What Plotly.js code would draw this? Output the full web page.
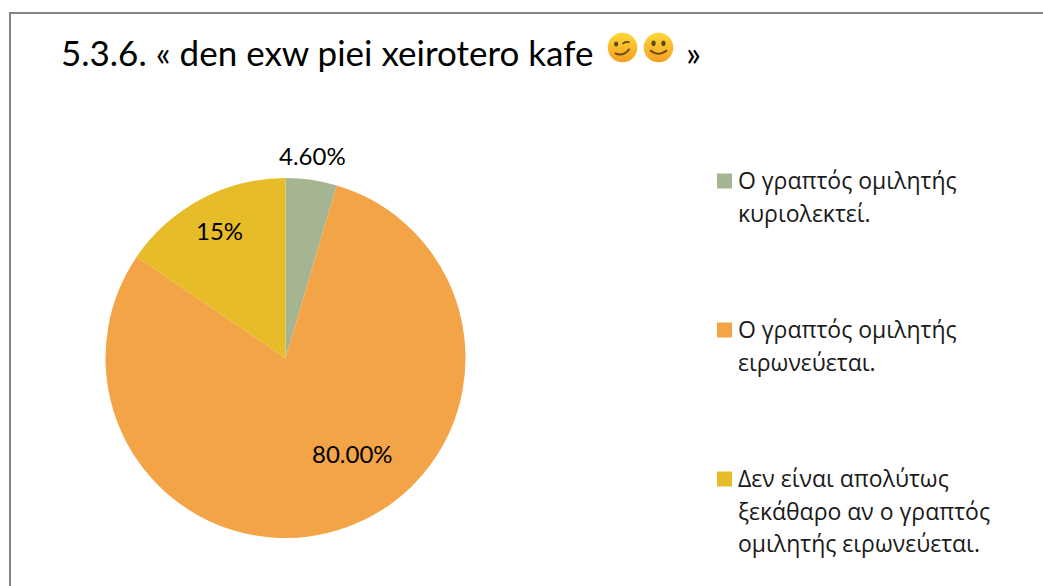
<!DOCTYPE html>
<html><head><meta charset="utf-8">
<script src="https://cdn.plot.ly/plotly-3.0.1.min.js"></script>
<style>html,body{margin:0;padding:0;background:#fff}#c{width:1043px;height:586px}</style>
</head><body><div id="c"></div>
<script>
const titleText = "5.3.6. « den exw piei xeirotero kafe";
const titleEnd = "»";
const categories = ["Ο γραπτός ομιλητής κυριολεκτεί.","Ο γραπτός ομιλητής ειρωνεύεται.","Δεν είναι απολύτως ξεκάθαρο αν ο γραπτός ομιλητής ειρωνεύεται."];
const legendLines = [["Ο γραπτός ομιλητής","κυριολεκτεί."],["Ο γραπτός ομιλητής","ειρωνεύεται."],["Δεν είναι απολύτως","ξεκάθαρο αν ο γραπτός","ομιλητής ειρωνεύεται."]];
const values = [4.6, 80, 15.5];
const valueLabels = ["4.60%","80.00%","15%"];
const colors = ["#A5B592","#F3A447","#E7BC29"];
const W=1043,H=586;
const px=x=>x/W, py=y=>1-y/H;
const labelPos=[[312,155],[352,453],[219,230]];
const legendY=[181,330,479];
const FONT='Lato, "Noto Sans", sans-serif';
const LFONT='"Open Sans", "Noto Sans", sans-serif';
const emoji=(wink)=>{
 const eyes = wink
  ? '<ellipse cx="13" cy="17" rx="3" ry="3.6" fill="#5b4a1e"/><path d="M22 17 q5 -5 10 -2" stroke="#5b4a1e" stroke-width="2.4" fill="none"/><path d="M11 30 q12 6 21 -6" stroke="#6b4a14" stroke-width="2.6" fill="none"/>'
  : '<ellipse cx="15" cy="16" rx="3" ry="4" fill="#5b4a1e"/><ellipse cx="29" cy="16" rx="3" ry="4" fill="#5b4a1e"/><path d="M10 26 q12 10 24 0" stroke="#6b4a14" stroke-width="2.6" fill="none"/>';
 const s='<svg xmlns="http://www.w3.org/2000/svg" width="44" height="44" viewBox="0 0 44 44"><defs><linearGradient id="g" x1="0" y1="0" x2="0" y2="1"><stop offset="0" stop-color="#FDD835"/><stop offset="1" stop-color="#F59E24"/></linearGradient></defs><circle cx="22" cy="22" r="21" fill="url(#g)"/>'+eyes+'</svg>';
 return 'data:image/svg+xml;base64,'+btoa(s);
};
const annotations=[
 {text:titleText,x:px(59),y:py(52),xref:'paper',yref:'paper',xanchor:'left',yanchor:'middle',showarrow:false,font:{family:FONT,size:35,color:'#000'}},
 {text:titleEnd,x:px(684),y:py(52),xref:'paper',yref:'paper',xanchor:'left',yanchor:'middle',showarrow:false,font:{family:FONT,size:35,color:'#000'}}
];
valueLabels.forEach((t,i)=>annotations.push({text:t,x:px(labelPos[i][0]),y:py(labelPos[i][1]),xref:'paper',yref:'paper',xanchor:'center',yanchor:'middle',showarrow:false,font:{family:FONT,size:24,color:'#000'}}));
const shapes=[{type:'rect',xref:'paper',yref:'paper',x0:px(10),x1:px(1060),y0:py(13),y1:py(600),line:{color:'#868686',width:2},fillcolor:'rgba(0,0,0,0)'}];
legendLines.forEach((lines,i)=>{
 shapes.push({type:'rect',xref:'paper',yref:'paper',x0:px(717),x1:px(732),y0:py(legendY[i]-7.5),y1:py(legendY[i]+7.5),fillcolor:colors[i],line:{width:0}});
 lines.forEach((l,j)=>annotations.push({text:l,x:px(736),y:py(legendY[i]-1+j*32.5),xref:'paper',yref:'paper',xanchor:'left',yanchor:'middle',showarrow:false,font:{family:LFONT,size:23,color:'#1a1a1a'}}));
});
const images=[[607,true],[643,false]].map(([x,w])=>({source:emoji(w),xref:'paper',yref:'paper',x:px(x),y:py(32),sizex:31/W,sizey:31/H,xanchor:'left',yanchor:'top',layer:'above',sizing:'stretch'}));
Plotly.newPlot('c',[{type:'pie',labels:categories,values:values,sort:false,direction:'clockwise',rotation:0,textinfo:'none',hoverinfo:'label+percent',marker:{colors:colors,line:{width:0}},domain:{x:[px(105.5),px(465.5)],y:[py(538),py(178)]}}],
{width:W,height:H,margin:{l:0,r:0,t:0,b:0},paper_bgcolor:'#fff',showlegend:false,annotations,shapes,images},{displayModeBar:false,staticPlot:true});
</script></body></html>
